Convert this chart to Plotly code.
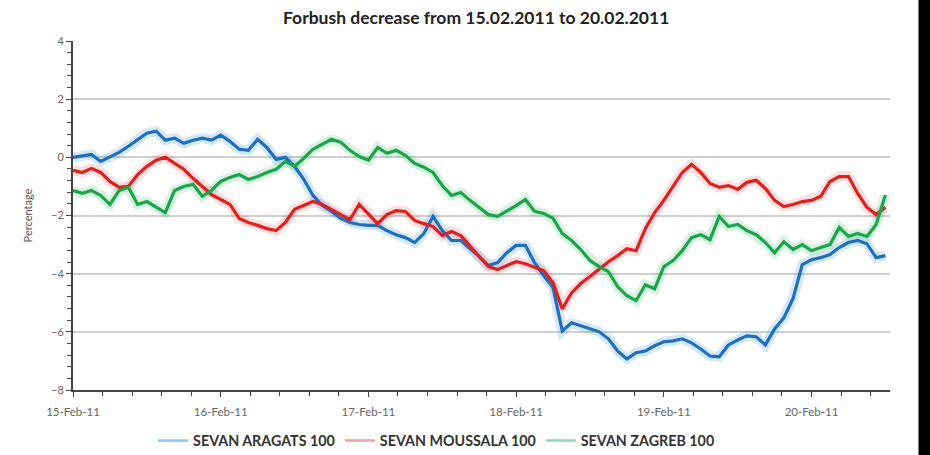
import pandas as pd
import plotly.graph_objects as go

# ---- data ----
start_time = "2011-02-15 00:00"
step_minutes = 90

aragats = [0.00, 0.05, 0.10, -0.14, 0.00, 0.17, 0.38, 0.62, 0.83, 0.90,
           0.59, 0.66, 0.48, 0.59, 0.66, 0.59, 0.76, 0.55, 0.28, 0.24,
           0.62, 0.34, -0.07, 0.00, -0.31, -0.76, -1.31, -1.66, -1.86, -2.10,
           -2.24, -2.31, -2.34, -2.34, -2.52, -2.66, -2.76, -2.93, -2.62, -2.03,
           -2.52, -2.86, -2.86, -3.14, -3.41, -3.72, -3.62, -3.28, -3.03, -3.03,
           -3.62, -4.07, -4.48, -5.97, -5.69, -5.79, -5.90, -6.00, -6.24, -6.66,
           -6.93, -6.72, -6.66, -6.48, -6.34, -6.31, -6.24, -6.38, -6.59, -6.83,
           -6.86, -6.45, -6.28, -6.14, -6.17, -6.45, -5.90, -5.52, -4.85, -3.69,
           -3.52, -3.45, -3.34, -3.10, -2.93, -2.86, -2.97, -3.45, -3.38]

moussala = [-0.45, -0.52, -0.38, -0.52, -0.83, -1.03, -1.00, -0.59, -0.31, -0.10,
            0.00, -0.21, -0.41, -0.72, -1.00, -1.28, -1.45, -1.62, -2.10, -2.24,
            -2.34, -2.45, -2.52, -2.24, -1.79, -1.66, -1.52, -1.62, -1.79, -1.97,
            -2.14, -1.62, -1.97, -2.28, -1.97, -1.83, -1.86, -2.17, -2.28, -2.38,
            -2.69, -2.55, -2.69, -3.07, -3.41, -3.76, -3.86, -3.72, -3.59, -3.66,
            -3.79, -3.90, -4.31, -5.21, -4.66, -4.34, -4.10, -3.83, -3.59, -3.38,
            -3.14, -3.21, -2.45, -1.90, -1.48, -1.00, -0.52, -0.24, -0.52, -0.90,
            -1.03, -0.97, -1.10, -0.86, -0.79, -1.07, -1.48, -1.69, -1.62, -1.52,
            -1.48, -1.34, -0.83, -0.66, -0.66, -1.24, -1.72, -1.97, -1.72]

zagreb = [-1.14, -1.24, -1.14, -1.31, -1.62, -1.14, -1.03, -1.62, -1.52, -1.72,
          -1.90, -1.14, -1.00, -0.93, -1.34, -1.14, -0.83, -0.69, -0.59, -0.76,
          -0.66, -0.52, -0.41, -0.14, -0.31, -0.03, 0.28, 0.45, 0.62, 0.52,
          0.24, 0.03, -0.10, 0.34, 0.14, 0.24, 0.07, -0.21, -0.34, -0.52,
          -0.97, -1.31, -1.21, -1.48, -1.72, -1.97, -2.03, -1.86, -1.66, -1.45,
          -1.86, -1.93, -2.10, -2.62, -2.86, -3.17, -3.55, -3.76, -3.93, -4.45,
          -4.76, -4.93, -4.38, -4.52, -3.76, -3.55, -3.21, -2.76, -2.66, -2.83,
          -2.03, -2.38, -2.31, -2.52, -2.66, -2.93, -3.28, -2.90, -3.17, -3.00,
          -3.21, -3.10, -3.00, -2.41, -2.72, -2.62, -2.72, -2.31, -1.30]

series_names = ["SEVAN ARAGATS 100", "SEVAN MOUSSALA 100", "SEVAN ZAGREB 100"]
series_values = [aragats, moussala, zagreb]
main_colors = ["#1f6fc0", "#e02020", "#1aa54b"]
halo_colors = ["rgba(60,150,225,0.22)", "rgba(235,90,90,0.20)", "rgba(60,190,110,0.20)"]
legend_colors = ["#86c8ea", "#f0a0a0", "#90d8b0"]

y_ticks = [4, 2, 0, -2, -4, -6, -8]

times = pd.date_range(start=start_time, periods=len(aragats), freq=f"{step_minutes}min")

fig = go.Figure()

for name, vals, hc in zip(series_names, series_values, halo_colors):
    fig.add_trace(go.Scatter(x=times, y=vals, mode="lines", showlegend=False,
                             hoverinfo="skip", line=dict(color=hc, width=10)))

for name, vals, mc in zip(series_names, series_values, main_colors):
    fig.add_trace(go.Scatter(x=times, y=vals, mode="lines", name=name,
                             showlegend=False, line=dict(color=mc, width=3.2)))

for name, lc in zip(series_names, legend_colors):
    fig.add_trace(go.Scatter(x=[None], y=[None], mode="lines", name=name,
                             line=dict(color=lc, width=2.5)))

fig.update_layout(
    width=930, height=455,
    margin=dict(l=73, r=40, t=41, b=65, autoexpand=False),
    paper_bgcolor="white", plot_bgcolor="white",
    font=dict(family="Lato, Open Sans, sans-serif", color="#444"),
    title=dict(text="<b>Forbush decrease from 15.02.2011 to 20.02.2011</b>",
               x=0.512, xanchor="center", y=1 - 18 / 455, yref="container", yanchor="middle",
               font=dict(size=17.5, color="#222")),
    legend=dict(orientation="h", x=0.445, xanchor="center", y=-0.145, yanchor="middle",
                font=dict(size=14.3, color="#333", weight="bold"), itemwidth=30,
                traceorder="normal"),
    annotations=[dict(text=" ", xref="paper", yref="paper", x=1.0345, y=0.5,
                      xanchor="left", yanchor="middle", showarrow=False,
                      width=20, height=500, bgcolor="black", borderpad=0)],
)

fig.update_xaxes(
    type="date",
    range=["2011-02-15 00:00", "2011-02-20 12:45"],
    dtick=86400000, tick0="2011-02-15", tickformat="%d-%b-%y",
    showgrid=False, showline=True, linecolor="#444", linewidth=2,
    ticks="outside", ticklen=5, tickcolor="#444", ticklabelstandoff=5,
    tickfont=dict(size=11.5, color="#666"),
    minor=dict(dtick=17280000, ticks="outside", ticklen=4, tickcolor="#444", showgrid=False),
    zeroline=False,
)

fig.update_yaxes(
    range=[-8, 4], tickvals=y_ticks,
    showgrid=True, gridcolor="#cfcfcf", gridwidth=2,
    showline=True, linecolor="#444", linewidth=2,
    ticks="outside", ticklen=5, tickcolor="#444",
    tickfont=dict(size=11, color="#666"),
    minor=dict(dtick=0.4, ticks="outside", ticklen=4, tickcolor="#444", showgrid=False),
    zeroline=False,
    title=dict(text="Percentage", font=dict(size=11, color="#555"), standoff=16),
)

fig.write_html("out.html", config={"displayModeBar": False},
               post_script="document.body.style.margin='0';document.body.style.overflow='hidden';")
